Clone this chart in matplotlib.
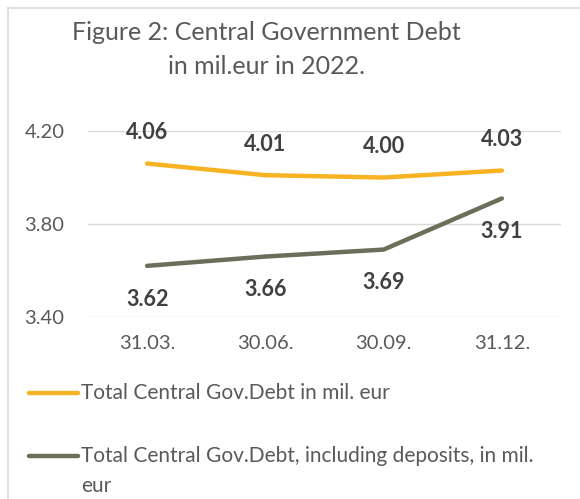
import matplotlib
matplotlib.use("Agg")
from matplotlib import pyplot as plt
from matplotlib.lines import Line2D

# data
dates = ["31.03.", "30.06.", "30.09.", "31.12."]
total_debt = [4.06, 4.01, 4.00, 4.03]
debt_incl_deposits = [3.62, 3.66, 3.69, 3.91]
series_names = [
    "Total Central Gov.Debt in mil. eur",
    "Total Central Gov.Debt, including deposits, in mil.",
]
wrap_tail = "eur"
y_ticks = [3.40, 3.80, 4.20]

ORANGE = "#F8B323"
DARK = "#6B6E58"
TEXT = "#595959"
LABEL = "#404040"

plt.rcParams["font.family"] = ["Lato", "DejaVu Sans"]

W, H = 580, 499
fig = plt.figure(figsize=(W / 100, H / 100), dpi=100)
ax = fig.add_axes([88 / W, 1 - 317 / H, (561 - 88) / W, (317 - 131) / H])

x = range(len(dates))
ax.plot(x, total_debt, color=ORANGE, lw=3.2, solid_capstyle="round")
ax.plot(x, debt_incl_deposits, color=DARK, lw=3.2, solid_capstyle="round")

for i, v in enumerate(total_debt):
    ax.annotate(f"{v:.2f}", (i, v), xytext=(0, 22), textcoords="offset points",
                ha="center", va="center", fontsize=15.5, fontweight="bold", color=LABEL)
for i, v in enumerate(debt_incl_deposits):
    ax.annotate(f"{v:.2f}", (i, v), xytext=(0, -24), textcoords="offset points",
                ha="center", va="center", fontsize=15.5, fontweight="bold", color=LABEL)

ax.set_xlim(-0.5, len(dates) - 0.5)
ax.set_ylim(3.40, 4.20)
ax.set_xticks(list(x))
ax.set_xticklabels(dates)
ax.set_yticks(y_ticks)
ax.set_yticklabels([f"{t:.2f}" for t in y_ticks])
ax.tick_params(length=0, labelsize=14.5, colors=TEXT)
ax.tick_params(axis="x", pad=13)
ax.tick_params(axis="y", pad=17)
ax.grid(axis="y", color="#D9D9D9", lw=1)
ax.set_axisbelow(True)
for s in ax.spines.values():
    s.set_visible(False)

fig.text(266 / W, 1 - 33 / H, "Figure 2: Central Government Debt",
         ha="center", va="center", fontsize=18, color=TEXT)
fig.text(266 / W, 1 - 67 / H, "in mil.eur in 2022.",
         ha="center", va="center", fontsize=18, color=TEXT)

# manual legend
for name, color, yp in zip(series_names, [ORANGE, DARK], [393, 456]):
    yf = 1 - yp / H
    fig.add_artist(Line2D([29 / W, 78 / W], [yf, yf], color=color, lw=3.2,
                          solid_capstyle="round"))
    fig.text(81 / W, yf, name, ha="left", va="center", fontsize=15, color=TEXT)
fig.text(81 / W, 1 - 486 / H, wrap_tail, ha="left", va="center", fontsize=15, color=TEXT)

# outer frame
fig.add_artist(Line2D([8 / W, 8 / W], [0, 1 - 8 / H], color="#D9D9D9", lw=1.2))
fig.add_artist(Line2D([8 / W, 1], [1 - 8 / H, 1 - 8 / H], color="#D9D9D9", lw=1.2))

fig.savefig("out.png", dpi=100)
